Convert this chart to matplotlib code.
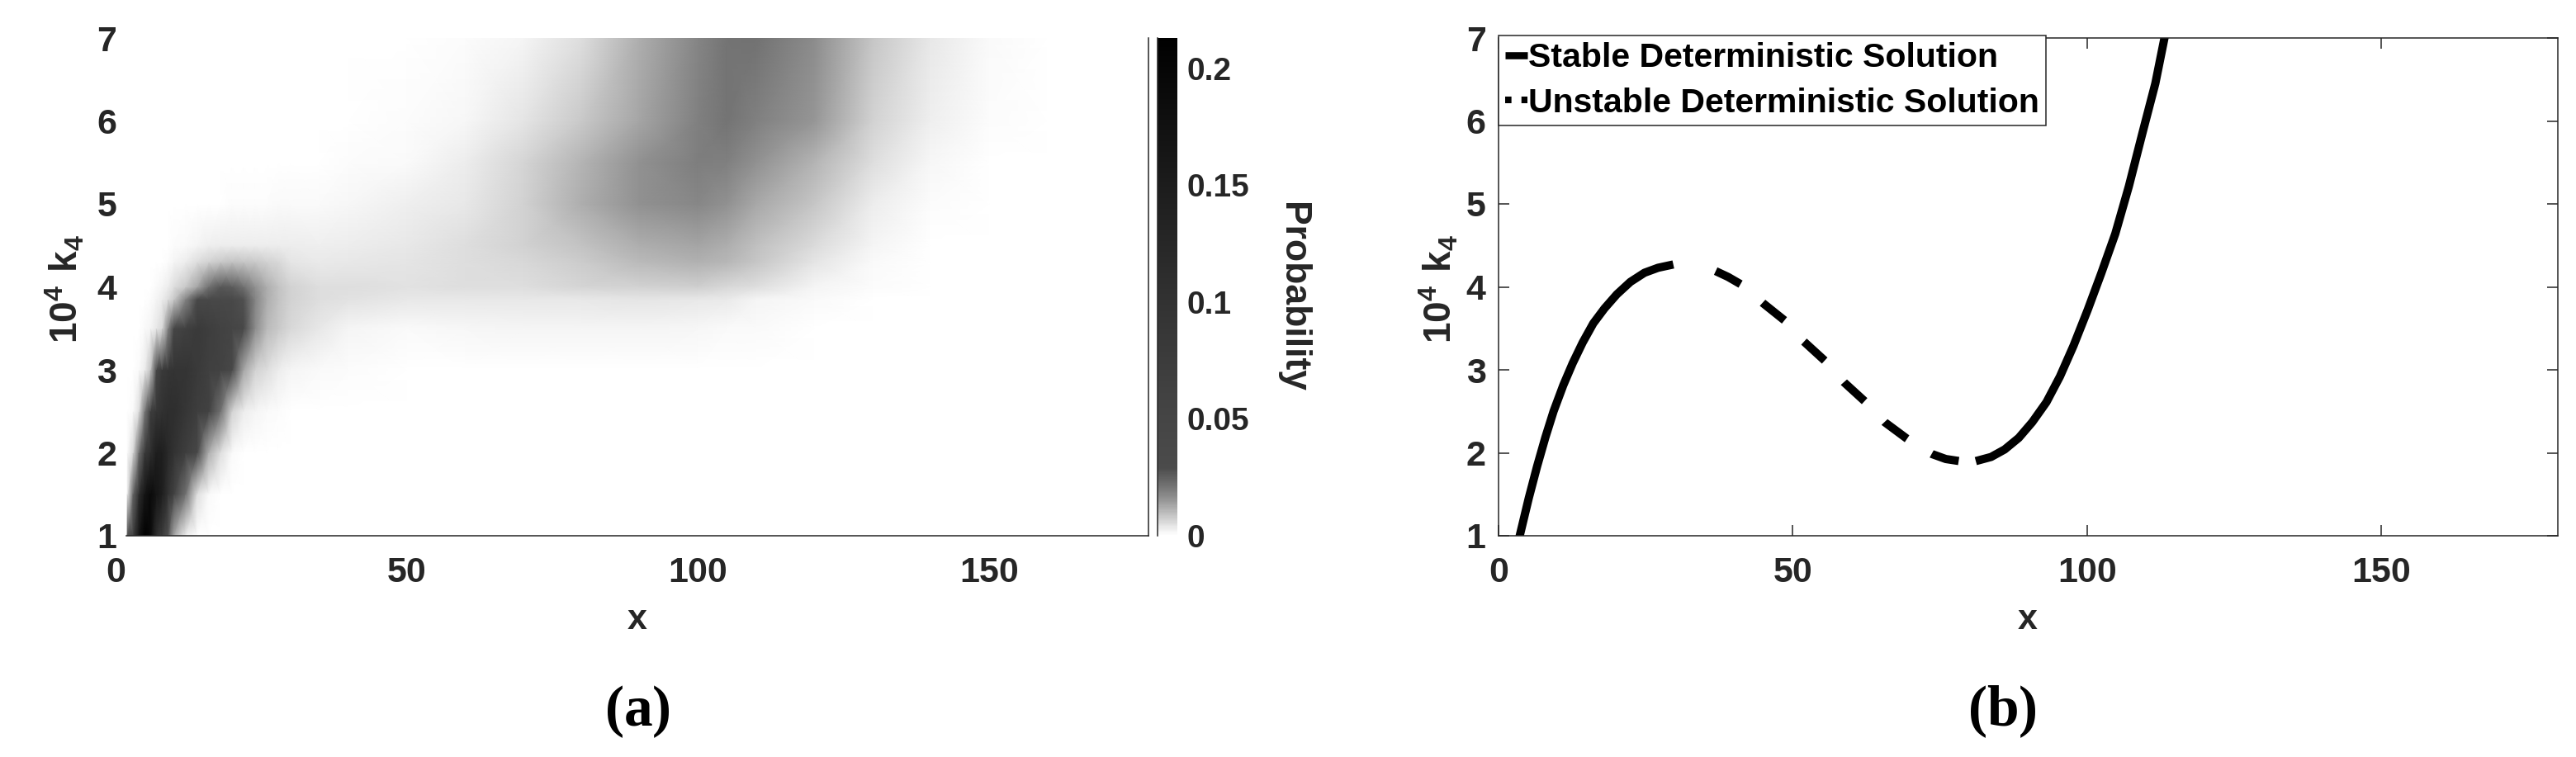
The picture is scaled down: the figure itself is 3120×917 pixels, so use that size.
import numpy as np
import matplotlib
# Use the non-interactive Agg backend
matplotlib.use('Agg')
import matplotlib.pyplot as plt
from matplotlib.colors import LinearSegmentedColormap
from matplotlib.lines import Line2D

plt.rcParams['font.family'] = ['Liberation Sans', 'DejaVu Sans']
plt.rcParams['font.weight'] = 'bold'
plt.rcParams['axes.labelweight'] = 'bold'
plt.rcParams['mathtext.fontset'] = 'custom'
plt.rcParams['mathtext.rm'] = 'Liberation Serif'
plt.rcParams['mathtext.bf'] = 'Liberation Serif:bold'
plt.rcParams['mathtext.sf'] = 'Liberation Sans:bold'

W, H = 3120, 917
INK = '#262626'

# ------------------ Panel (a): probability ------------------
grid_x = [2, 3, 4, 5, 6, 7, 8, 9, 10, 12, 14, 16, 18, 20, 22, 24, 26, 28, 30, 35, 40,
          50, 60, 70, 80, 90, 100, 105, 110, 120, 130, 140, 150, 160, 177]
grid_k = [1, 1.5, 2, 2.5, 3, 3.5, 3.85, 4, 4.3, 4.5, 5, 5.5, 6, 7]

prob_k1_0 = [.028, .07, .165, .21, .19, .11, .075, .028, .013, .003, .0003, 0, 0, 0, 0, 0, 0, 0, 0, 0, 0,
             0, 0, 0, 0, 0, 0, 0, 0, 0, 0, 0, 0, 0, 0]
prob_k1_5 = [.003, .024, .11, .165, .19, .165, .145, .10, .06, .022, .005, .001, 0, 0, 0, 0, 0, 0, 0, 0, 0,
             0, 0, 0, 0, 0, 0, 0, 0, 0, 0, 0, 0, 0, 0]
prob_k2_0 = [.0005, .006, .022, .08, .11, .145, .145, .12, .10, .07, .04, .012, .005, .001, .0003, 0, 0, 0, 0, 0, 0,
             0, 0, 0, 0, 0, 0, 0, 0, 0, 0, 0, 0, 0, 0]
prob_k2_5 = [0, .001, .005, .02, .07, .09, .10, .11, .11, .09, .07, .06, .022, .007, .003, .002, .001, .0005, .0003, .0001, 0,
             0, 0, 0, 0, 0, 0, 0, 0, 0, 0, 0, 0, 0, 0]
prob_k3_0 = [0, 0, .001, .003, .009, .04, .08, .09, .095, .095, .08, .065, .06, .04, .013, .007, .005, .003, .002, .001, .0005,
             .0003, .0003, .0003, .0002, .0002, .0002, .0002, .0001, 0, 0, 0, 0, 0, 0]
prob_k3_5 = [0, 0, 0, .001, .002, .004, .006, .018, .045, .065, .08, .07, .06, .05, .04, .017, .010, .008, .006, .004, .002,
             .0012, .0015, .0018, .0018, .0018, .0015, .0012, .001, .0004, .0001, 0, 0, 0, 0]
prob_k3_85 = [0, 0, 0, 0, .0008, .002, .003, .005, .008, .018, .035, .04, .04, .035, .028, .018, .012, .009, .007, .005, .0048,
              .004, .004, .0038, .004, .0045, .004, .0035, .002, .001, .0004, .0001, 0, 0, 0]
prob_k4_0 = [0, 0, 0, 0, .0003, .001, .002, .003, .005, .008, .013, .022, .027, .026, .022, .016, .012, .009, .007, .005, .005,
             .0048, .005, .005, .0065, .007, .0072, .006, .005, .002, .0006, .0002, 0, 0, 0]
prob_k4_3 = [0, 0, 0, 0, 0, 0, .0003, .0006, .002, .003, .005, .007, .008, .009, .0085, .008, .007, .006, .0045, .0035, .004,
             .0045, .005, .006, .0075, .01, .0115, .0105, .0085, .0045, .001, .0002, 0, 0, 0]
prob_k4_5 = [0, 0, 0, 0, 0, 0, 0, .0002, .0006, .0012, .002, .0025, .003, .003, .003, .003, .003, .003, .003, .0028, .003,
             .004, .005, .0068, .009, .012, .013, .012, .0095, .0055, .0018, .0004, .0001, 0, 0]
prob_k5_0 = [0, 0, 0, 0, 0, 0, 0, 0, 0, 0, 0, .0002, .0003, .0005, .0006, .0007, .0008, .0009, .001, .0012, .0015,
             .0025, .004, .007, .012, .016, .0175, .016, .0125, .0085, .003, .0006, .0001, 0, 0]
prob_k5_5 = [0, 0, 0, 0, 0, 0, 0, 0, 0, 0, 0, 0, 0, 0, 0, 0, .0001, .0001, .0002, .0004, .0006,
             .0012, .003, .0065, .011, .016, .0195, .019, .016, .011, .005, .0015, .0002, 0, 0]
prob_k6_0 = [0, 0, 0, 0, 0, 0, 0, 0, 0, 0, 0, 0, 0, 0, 0, 0, 0, 0, 0, 0, .0001,
             .0005, .0015, .0045, .008, .013, .019, .021, .019, .015, .007, .0025, .0005, .0001, 0]
prob_k7_0 = [0, 0, 0, 0, 0, 0, 0, 0, 0, 0, 0, 0, 0, 0, 0, 0, 0, 0, 0, 0, 0,
             .0001, .0008, .002, .005, .012, .018, .021, .0215, .017, .0085, .004, .0012, .0002, 0]

prob_rows = [prob_k1_0, prob_k1_5, prob_k2_0, prob_k2_5, prob_k3_0, prob_k3_5, prob_k3_85,
             prob_k4_0, prob_k4_3, prob_k4_5, prob_k5_0, prob_k5_5, prob_k6_0, prob_k7_0]

# gray ramp of the colorbar: fast white -> dark up to 0.03, then slow to black
cmap_values = [0, .004, .008, .015, .021, .029, .06, .10, .15, .213]
cmap_grays = [255, 230, 200, 150, 115, 75, 66, 50, 28, 0]

cbar_ticks = [0, .05, .1, .15, .2]
cbar_labels = ['0', '0.05', '0.1', '0.15', '0.2']

# ------------------ Panel (b): deterministic branches ------------------
stable_low_x = [3.4, 3.6, 5.14, 6.55, 7.95, 9.35, 11.0, 12.6, 14.3, 16.1, 18.0, 20.1, 22.4, 24.8, 27.1, 29.7]
stable_low_k = [.93, 1.0, 1.455, 1.836, 2.184, 2.5, 2.814, 3.08, 3.33, 3.56, 3.74, 3.91, 4.06, 4.17, 4.23, 4.27]
unstable_x = [36.9, 39.0, 41.2, 43.0, 45.0, 48.7, 51.9, 55.6, 58.7, 62.4, 65.6, 69.4, 71.5, 73.65, 76.0, 78.3]
unstable_k = [4.19, 4.12, 4.03, 3.93, 3.80, 3.59, 3.34, 3.10, 2.85, 2.61, 2.37, 2.17, 2.07, 1.985, 1.925, 1.90]
stable_high_x = [81.1, 83.7, 86.0, 88.4, 90.7, 93.1, 95.4, 97.7, 100.1, 102.4, 104.8, 107.1, 109.4, 111.6, 113.3]
stable_high_k = [1.90, 1.95, 2.04, 2.18, 2.37, 2.61, 2.92, 3.29, 3.72, 4.16, 4.64, 5.21, 5.85, 6.45, 7.05]

x_ticks = [0, 50, 100, 150]
k_ticks = [1, 2, 3, 4, 5, 6, 7]
k_label = r'$\mathsf{10^4\ k_4}$'


def px_axes(fig, left, top, right, bottom):
    return fig.add_axes([left / W, 1 - bottom / H, (right - left) / W, (bottom - top) / H])


def fig_xy(px, py):
    return px / W, 1 - py / H


fig = plt.figure(figsize=(W / 100, H / 100), dpi=100)

# ------------------ Chart (a): heat map with colorbar ------------------
cmap = LinearSegmentedColormap.from_list(
    'prob_gray',
    [(v / cmap_values[-1], (g / 255, g / 255, g / 255)) for v, g in zip(cmap_values, cmap_grays)],
    N=512)

ax_a = px_axes(fig, 140, 46, 1391, 649)
X, Y = np.meshgrid(grid_x, grid_k)
mesh = ax_a.pcolormesh(X, Y, np.array(prob_rows), cmap=cmap, vmin=0, vmax=cmap_values[-1], shading='gouraud')
ax_a.set_xlim(0, 177.4)
ax_a.set_ylim(1, 7)
ax_a.set_xticks(x_ticks)
ax_a.set_yticks(k_ticks)
ax_a.tick_params(axis='x', length=0, pad=18, labelsize=31, labelcolor=INK)
ax_a.tick_params(axis='y', length=0, pad=-1, labelsize=31, labelcolor=INK)
ax_a.spines['top'].set_visible(False)
ax_a.spines['left'].set_visible(False)
ax_a.spines['bottom'].set_bounds(1.8, 177.4)
for side in ['bottom', 'right']:
    ax_a.spines[side].set_linewidth(1.1)
    ax_a.spines[side].set_color(INK)
ax_a.set_xlabel('x', fontsize=31, color=INK)
ax_a.xaxis.set_label_coords(*fig_xy(772, 731), transform=fig.transFigure)
ax_a.set_ylabel(k_label, fontsize=33, color=INK)
ax_a.yaxis.set_label_coords(*fig_xy(105, 350), transform=fig.transFigure)

cax = px_axes(fig, 1402, 46, 1426, 649)
cbar = fig.colorbar(mesh, cax=cax)
cbar.set_ticks(cbar_ticks)
cbar.set_ticklabels(cbar_labels)
cbar.ax.tick_params(length=0, pad=8, labelsize=28, labelcolor=INK)
cbar.outline.set_visible(False)
cax.spines['left'].set_visible(True)
cax.spines['left'].set_linewidth(1.1)
cax.spines['left'].set_color(INK)
fig.text(*fig_xy(1566, 360), 'Probability', rotation=270, ha='center', va='center', fontsize=32, color=INK)

# ------------------ Chart (b): deterministic solution curve ------------------
ax_b = px_axes(fig, 1815, 46, 3098, 649)
line_w = 7.2
ax_b.plot(stable_low_x, stable_low_k, color='black', lw=line_w, solid_capstyle='butt', solid_joinstyle='round')
ax_b.plot(stable_high_x, stable_high_k, color='black', lw=line_w, solid_capstyle='butt', solid_joinstyle='round')
ax_b.plot(unstable_x, unstable_k, color='black', lw=line_w, linestyle=(0, (3.4, 3.5)), dash_capstyle='butt')
ax_b.set_xlim(0, 180)
ax_b.set_ylim(1, 7)
ax_b.set_xticks(x_ticks)
ax_b.set_yticks(k_ticks)
ax_b.tick_params(axis='both', which='both', direction='in', length=9.5, width=1.1, color=INK,
                 top=True, right=True, labelsize=31, labelcolor=INK)
ax_b.tick_params(axis='x', pad=18)
ax_b.tick_params(axis='y', pad=11)
for spine in ax_b.spines.values():
    spine.set_linewidth(1.1)
    spine.set_color(INK)
ax_b.set_xlabel('x', fontsize=31, color=INK)
ax_b.xaxis.set_label_coords(*fig_xy(2456, 731), transform=fig.transFigure)
ax_b.set_ylabel(k_label, fontsize=33, color=INK)
ax_b.yaxis.set_label_coords(*fig_xy(1768, 350), transform=fig.transFigure)

handles = [Line2D([], [], color='black', lw=6.2, solid_capstyle='butt'),
           Line2D([], [], color='black', lw=5.8, linestyle=(0, (0.95, 1.5)), dash_capstyle='butt')]
leg = ax_b.legend(handles, ['Stable Deterministic Solution', 'Unstable Deterministic Solution'],
                  loc='upper left', bbox_to_anchor=fig_xy(1815, 43), bbox_transform=fig.transFigure,
                  fontsize=29.5, frameon=True, fancybox=False, framealpha=1, edgecolor=INK,
                  borderaxespad=0, borderpad=0.2, handlelength=0.66, handletextpad=0.02, labelspacing=0.4)
leg.get_frame().set_linewidth(1.1)
for txt in leg.get_texts():
    txt.set_color('black')

# ------------------ Captions ------------------
fig.text(*fig_xy(772, 862), r'$\mathrm{(}\mathbf{a}\mathrm{)}$', ha='center', va='center', fontsize=50, color='black')
fig.text(*fig_xy(2425, 862), r'$\mathrm{(}\mathbf{b}\mathrm{)}$', ha='center', va='center', fontsize=50, color='black')

fig.savefig('out.png', dpi=100, facecolor='white')
plt.close(fig)
